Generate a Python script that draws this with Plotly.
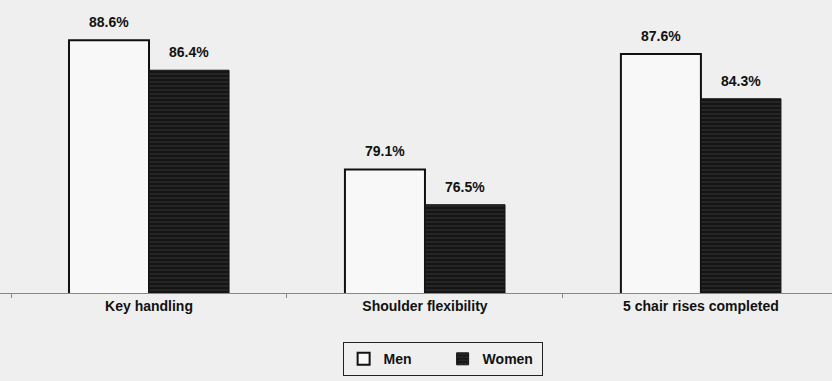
import plotly.graph_objects as go

categories = ["Key handling", "Shoulder flexibility", "5 chair rises completed"]
men = [88.6, 79.1, 87.6]
women = [86.4, 76.5, 84.3]

BG = "#efefef"
FONT = "Liberation Sans, Arial, sans-serif"

fig = go.Figure()
fig.add_trace(go.Bar(
    name="<b>Men</b>", x=categories, y=men,
    marker=dict(color="#f8f8f8", line=dict(color="#111111", width=2)),
))
fig.add_trace(go.Bar(
    name="<b>Women</b>", x=categories, y=women,
    marker=dict(
        color="#151515",
        line=dict(color="#151515", width=1),
        pattern=dict(shape="-", fgcolor="#4a4a4a", bgcolor="#151515", size=4, solidity=0.3),
    ),
))

# value labels above each bar
offsets = [-0.145, 0.145]
for k, vals in enumerate((men, women)):
    for i, v in enumerate(vals):
        fig.add_annotation(
            x=i + offsets[k], y=v, xref="x", yref="y",
            text=f"<b>{v:.1f}%</b>", showarrow=False,
            yanchor="bottom", yshift=8,
            font=dict(family=FONT, size=14, color="#111111"),
        )

fig.update_layout(
    width=832, height=381,
    margin=dict(l=0, r=0, t=0, b=88),
    paper_bgcolor=BG, plot_bgcolor=BG,
    barmode="group", bargap=0.42, bargroupgap=0,
    font=dict(family=FONT, size=14, color="#111111"),
    showlegend=True,
    legend=dict(
        orientation="h", x=0.532, xanchor="center", y=-0.168, yanchor="top",
        bordercolor="#222222", borderwidth=1, bgcolor=BG,
        font=dict(family=FONT, size=14, color="#111111"),
        entrywidth=54, entrywidthmode="pixels", traceorder="normal",
        itemwidth=30,
    ),
    xaxis=dict(
        type="category", range=[-0.54, 2.475],
        showline=True, linecolor="#888888", linewidth=1,
        ticks="outside", tickson="boundaries", ticklen=4, tickcolor="#888888",
        tickfont=dict(family=FONT, size=14, color="#111111"),
        tickprefix="<b>", ticksuffix="</b>",
        showgrid=False, zeroline=False,
    ),
    yaxis=dict(range=[70, 91.57], visible=False, showgrid=False, zeroline=False),
)

fig.write_html("out.html")
